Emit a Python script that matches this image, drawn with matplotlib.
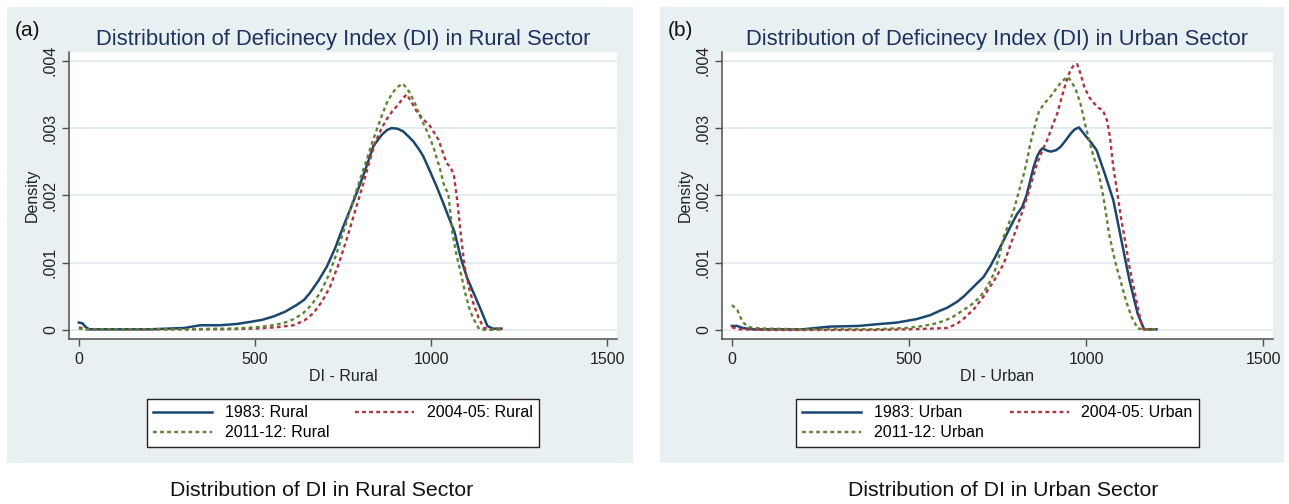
import matplotlib
matplotlib.use('Agg')
import matplotlib.pyplot as plt
from matplotlib.patches import Rectangle

plt.rcParams['font.family'] = ['Liberation Sans', 'DejaVu Sans']

# Kernel density curves of the Deficiency Index, read per survey round
# ---- Rural sector ----
rural_1983_x = [0, 10, 20, 30, 100, 200, 250, 300, 344, 400, 450, 486, 520, 552, 585, 618, 640, 656,
                680, 704, 728, 751, 775, 798, 818, 836, 860, 875, 888, 905, 921, 935, 950, 965, 978,
                996, 1016, 1032, 1049, 1067, 1085, 1102, 1120, 1143, 1160, 1175, 1200]
rural_1983_y = [0.00011, 0.00010, 0.00004, 0.00001, 0.00001, 0.00001, 0.00002, 0.00003, 0.00007,
                0.00007, 0.00009, 0.00012, 0.00015, 0.00020, 0.00027, 0.00037, 0.00045, 0.00055,
                0.00073, 0.00094, 0.00122, 0.00154, 0.00185, 0.00216, 0.00245, 0.00273, 0.00290,
                0.00297, 0.00300, 0.00299, 0.00295, 0.00288, 0.00280, 0.00269, 0.00258, 0.00237,
                0.00213, 0.00192, 0.00169, 0.00145, 0.00106, 0.00078, 0.00056, 0.00028, 0.00006,
                0.00002, 0.00002]

rural_2004_x = [0, 20, 100, 200, 300, 400, 500, 560, 609, 640, 666, 690, 713, 737, 760, 784, 808,
                825, 841, 858, 874, 890, 907, 920, 931, 945, 959, 978, 997, 1021, 1044, 1055, 1065,
                1075, 1085, 1095, 1108, 1120, 1135, 1150, 1170, 1200]
rural_2004_y = [0.00004, 0.00001, 0.00001, 0.00001, 0.00001, 0.00001, 0.00002, 0.00004, 0.00007,
                0.00014, 0.00025, 0.00042, 0.00064, 0.00097, 0.00134, 0.00176, 0.00218, 0.00250,
                0.00278, 0.00298, 0.00313, 0.00325, 0.00335, 0.00344, 0.00350, 0.00338, 0.00325,
                0.00313, 0.00303, 0.00283, 0.00248, 0.00242, 0.00230, 0.00190, 0.00140, 0.00095,
                0.00062, 0.00040, 0.00018, 0.00003, 0.00001, 0.00001]

rural_2011_x = [0, 20, 100, 200, 300, 400, 440, 500, 540, 580, 610, 637, 660, 685, 710, 732, 755,
                779, 800, 817, 832, 846, 860, 874, 888, 902, 919, 930, 940, 955, 969, 988, 1006,
                1025, 1038, 1049, 1061, 1073, 1085, 1097, 1108, 1120, 1137, 1160, 1200]
rural_2011_y = [0.00002, 0.00001, 0.00001, 0.00001, 0.00001, 0.00002, 0.00002, 0.00004, 0.00006,
                0.00010, 0.00016, 0.00025, 0.00037, 0.00055, 0.00082, 0.00114, 0.00152, 0.00193,
                0.00226, 0.00253, 0.00277, 0.00298, 0.00318, 0.00337, 0.00350, 0.00360, 0.00366,
                0.00360, 0.00352, 0.00336, 0.00317, 0.00296, 0.00273, 0.00240, 0.00213, 0.00203,
                0.00143, 0.00110, 0.00083, 0.00055, 0.00033, 0.00017, 0.00001, 0.00000, 0.00001]

# ---- Urban sector ----
urban_1983_x = [0, 15, 30, 60, 100, 200, 277, 357, 420, 466, 520, 560, 589, 608, 636, 655, 682, 711,
                730, 749, 768, 787, 805, 820, 832, 843, 852, 862, 870, 877, 888, 900, 915, 928, 943,
                957, 968, 980, 1001, 1015, 1030, 1053, 1077, 1100, 1123, 1146, 1164, 1180, 1199]
urban_1983_y = [0.00006, 0.00006, 0.00003, 0.00001, 0.00001, 0.00001, 0.00005, 0.00006, 0.00009,
                0.00011, 0.00016, 0.00022, 0.00029, 0.00033, 0.00042, 0.00050, 0.00064, 0.00079,
                0.00095, 0.00114, 0.00134, 0.00154, 0.00172, 0.00183, 0.00200, 0.00223, 0.00242,
                0.00258, 0.00266, 0.00270, 0.00267, 0.00265, 0.00267, 0.00272, 0.00282, 0.00292,
                0.00298, 0.00301, 0.00287, 0.00278, 0.00267, 0.00232, 0.00193, 0.00133, 0.00073,
                0.00024, 0.00001, 0.00001, 0.00001]

urban_2004_x = [0, 20, 100, 200, 300, 400, 500, 560, 608, 635, 655, 685, 711, 740, 768, 787, 806,
                820, 834, 848, 862, 876, 891, 905, 919, 931, 943, 955, 966, 975, 985, 995, 1010,
                1024, 1035, 1047, 1059, 1068, 1077, 1088, 1100, 1112, 1123, 1135, 1146, 1155, 1163,
                1193]
urban_2004_y = [0.00004, 0.00001, 0.00000, 0.00000, 0.00000, 0.00000, 0.00001, 0.00002, 0.00003,
                0.00009, 0.00017, 0.00032, 0.00050, 0.00073, 0.00099, 0.00127, 0.00154, 0.00176,
                0.00198, 0.00223, 0.00248, 0.00266, 0.00283, 0.00303, 0.00322, 0.00345, 0.00367,
                0.00385, 0.00394, 0.00395, 0.00380, 0.00361, 0.00345, 0.00336, 0.00330, 0.00327,
                0.00312, 0.00285, 0.00242, 0.00205, 0.00163, 0.00128, 0.00093, 0.00062, 0.00034,
                0.00012, 0.00001, 0.00001]

urban_2011_x = [0, 15, 30, 45, 60, 100, 200, 300, 400, 494, 540, 579, 620, 655, 680, 702, 722, 740,
                755, 768, 782, 796, 810, 825, 835, 843, 855, 867, 883, 900, 915, 928, 940, 949, 960,
                971, 985, 1000, 1020, 1035, 1050, 1065, 1082, 1100, 1115, 1129, 1146, 1170, 1200]
urban_2011_y = [0.00037, 0.00030, 0.00012, 0.00005, 0.00003, 0.00002, 0.00001, 0.00001, 0.00001,
                0.00003, 0.00006, 0.00010, 0.00018, 0.00030, 0.00039, 0.00050, 0.00065, 0.00084,
                0.00110, 0.00139, 0.00158, 0.00178, 0.00205, 0.00233, 0.00256, 0.00278, 0.00302,
                0.00325, 0.00337, 0.00347, 0.00358, 0.00367, 0.00373, 0.00376, 0.00368, 0.00357,
                0.00335, 0.00300, 0.00260, 0.00235, 0.00195, 0.00143, 0.00102, 0.00068, 0.00040,
                0.00019, 0.00002, 0.00001, 0.00001]

x_ticks = [0, 500, 1000, 1500]
y_ticks = [0, 0.001, 0.002, 0.003, 0.004]
y_tick_labels = ['0', '.001', '.002', '.003', '.004']

NAVY = '#1A476F'
MAROON = '#B2313D'
GREEN = '#5E8532'
TITLE_COLOR = '#1E3260'
PANEL_BG = '#E8F0F2'
GRID_COLOR = '#E3ECEF'
AXIS_COLOR = '#505050'

W, H = 1289, 504
fig = plt.figure(figsize=(W / 100, H / 100), dpi=100)
fig.patch.set_facecolor('white')


def fx(px):
    return px / W


def fy(py):
    return 1 - py / H


def panel(left_px, right_px, ax_left, ax_right, tag, title, xlabel, caption, caption_x, series, labels):
    # light bluish-gray graph region behind each panel
    bg = Rectangle((fx(left_px), fy(463)), fx(right_px - left_px), (463 - 7) / H,
                   transform=fig.transFigure, facecolor=PANEL_BG, edgecolor='none')
    bg.set_zorder(-10)
    fig.add_artist(bg)

    ax = fig.add_axes([fx(ax_left), fy(339), fx(ax_right - ax_left), (339 - 52) / H])
    ax.set_zorder(1)
    ax.set_facecolor('white')

    styles = [dict(color=NAVY, lw=1.8, ls='-'),
              dict(color=MAROON, lw=1.7, ls=(0, (1.6, 1.4))),
              dict(color=GREEN, lw=1.7, ls=(0, (1.6, 1.4)))]
    handles = []
    for (xs, ys), st, lab in zip(series, styles, labels):
        h, = ax.plot(xs, ys, label=lab, zorder=3, **st)
        handles.append(h)

    ax.set_xlim(-28, 1528)
    ax.set_ylim(-0.000134, 0.00413)
    ax.set_xticks(x_ticks)
    ax.set_yticks(y_ticks)
    ax.set_yticklabels(y_tick_labels, rotation=90, va='center')
    ax.yaxis.grid(True, color=GRID_COLOR, lw=1.3, zorder=1)
    ax.set_axisbelow(True)
    for s in ['top', 'right']:
        ax.spines[s].set_visible(False)
    for s in ['left', 'bottom']:
        ax.spines[s].set_color(AXIS_COLOR)
        ax.spines[s].set_linewidth(1.1)
    ax.tick_params(axis='both', colors=AXIS_COLOR, length=5, width=1.0,
                   labelsize=11.5, labelcolor='#222222')
    ax.tick_params(axis='y', pad=3)
    ax.tick_params(axis='x', pad=4)

    ax.set_ylabel('Density', fontsize=11.5, color='#222222', labelpad=2)
    ax.set_xlabel(xlabel, fontsize=11.5, color='#222222', labelpad=2)
    ax.set_title(title, fontsize=15.8, color=TITLE_COLOR, pad=5)

    fig.text(fx(left_px + 8), fy(31), tag, fontsize=15, color='#111111', ha='left', va='center')
    fig.text(fx(caption_x), fy(490), caption, fontsize=15.3, color='#111111', ha='center', va='center')

    # legend: two columns, row 1 = 1983 / 2004-05, row 2 = 2011-12
    order = [handles[0], handles[2], handles[1]]
    leg = ax.legend(order, [h.get_label() for h in order], ncol=2,
                    loc='upper center', bbox_to_anchor=(fx((ax_left + ax_right) / 2), fy(391)),
                    bbox_transform=fig.transFigure, fontsize=11.5, frameon=True, fancybox=False,
                    edgecolor='#222222', framealpha=1, handlelength=3.7, handletextpad=0.8,
                    columnspacing=1.6, labelspacing=0.3, borderpad=0.4)
    leg.get_frame().set_linewidth(1.0)
    return ax


panel(7, 633, 69, 617, '(a)', 'Distribution of Deficinecy Index (DI) in Rural Sector',
      'DI - Rural', 'Distribution of DI in Rural Sector', 322,
      [(rural_1983_x, rural_1983_y), (rural_2004_x, rural_2004_y), (rural_2011_x, rural_2011_y)],
      ['1983: Rural', '2004-05: Rural', '2011-12: Rural'])

panel(660, 1284, 722, 1273, '(b)', 'Distribution of Deficinecy Index (DI) in Urban Sector',
      'DI - Urban', 'Distribution of DI in Urban Sector', 1003,
      [(urban_1983_x, urban_1983_y), (urban_2004_x, urban_2004_y), (urban_2011_x, urban_2011_y)],
      ['1983: Urban', '2004-05: Urban', '2011-12: Urban'])

fig.savefig('out.png', dpi=100, facecolor='white')
